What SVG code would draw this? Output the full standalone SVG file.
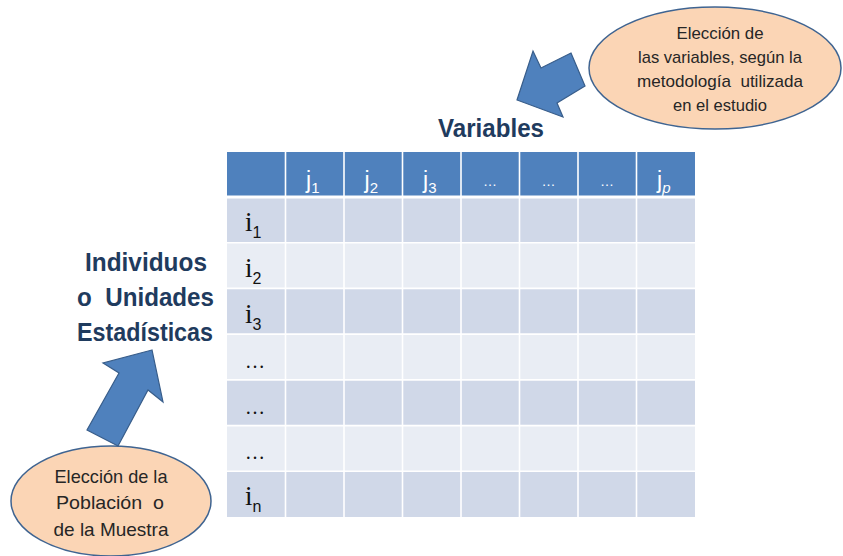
<svg xmlns="http://www.w3.org/2000/svg" width="843" height="556" viewBox="0 0 843 556">
  <style>
    text { white-space: pre; }
    .hdr { fill: #4F81BD; }
    .odd { fill: #D0D8E8; }
    .even { fill: #E9EDF4; }
    .grid { stroke: #FFFFFF; stroke-width: 1.6; fill: none; }
    .title { font-family: "Liberation Sans", Arial, sans-serif; font-weight: bold; fill: #1F3B5E; font-size: 26px; text-anchor: middle; }
    .bubble { fill: #FBD5B5; stroke: #3F6491; stroke-width: 1.5; }
    .btext { font-family: "Liberation Sans", Arial, sans-serif; fill: #262626; text-anchor: middle; }
    .arrow { fill: #4F81BD; stroke: #385D8A; stroke-width: 1.2; stroke-linejoin: miter; }
    .jh { font-family: "Liberation Sans", Arial, sans-serif; fill: #FFFFFF; font-size: 23px; }
    .jsub { font-size: 15px; }
    .ih { font-family: "Liberation Serif", "Times New Roman", serif; fill: #111111; font-size: 27px; }
    .isub { font-family: "Liberation Sans", Arial, sans-serif; font-size: 16px; fill: #111111; }
    .dots { font-family: "Liberation Sans", Arial, sans-serif; font-size: 14px; text-anchor: middle; }
    .rdots { font-family: "Liberation Serif", serif; font-size: 20px; text-anchor: middle; fill: #111111; }
  </style>

  <rect width="843" height="556" fill="#FFFFFF"/>

  <!-- data matrix -->
  <g id="matrix">
    <rect class="hdr" x="227" y="152" width="468" height="45"/>
    <rect class="odd" x="227" y="197" width="468" height="45.7"/>
    <rect class="even" x="227" y="242.7" width="468" height="45.7"/>
    <rect class="odd" x="227" y="288.4" width="468" height="45.7"/>
    <rect class="even" x="227" y="334.1" width="468" height="45.8"/>
    <rect class="odd" x="227" y="379.9" width="468" height="45.7"/>
    <rect class="even" x="227" y="425.6" width="468" height="45.7"/>
    <rect class="odd" x="227" y="471.3" width="468" height="45.7"/>
    <g class="grid">
      <line x1="285.5" y1="152" x2="285.5" y2="517"/>
      <line x1="344" y1="152" x2="344" y2="517"/>
      <line x1="402.5" y1="152" x2="402.5" y2="517"/>
      <line x1="461" y1="152" x2="461" y2="517"/>
      <line x1="519.5" y1="152" x2="519.5" y2="517"/>
      <line x1="578" y1="152" x2="578" y2="517"/>
      <line x1="636.5" y1="152" x2="636.5" y2="517"/>
      <line x1="227" y1="197" x2="695" y2="197" stroke-width="3"/>
      <line x1="227" y1="242.7" x2="695" y2="242.7"/>
      <line x1="227" y1="288.4" x2="695" y2="288.4"/>
      <line x1="227" y1="334.1" x2="695" y2="334.1"/>
      <line x1="227" y1="379.9" x2="695" y2="379.9"/>
      <line x1="227" y1="425.6" x2="695" y2="425.6"/>
      <line x1="227" y1="471.3" x2="695" y2="471.3"/>
    </g>

    <!-- column headers -->
    <text class="jh" x="306" y="188">j<tspan class="jsub" dy="5">1</tspan></text>
    <text class="jh" x="364.5" y="188">j<tspan class="jsub" dy="5">2</tspan></text>
    <text class="jh" x="423" y="188">j<tspan class="jsub" dy="5">3</tspan></text>
    <text class="dots" x="490" y="186" fill="#FFFFFF">…</text>
    <text class="dots" x="548.5" y="186" fill="#FFFFFF">…</text>
    <text class="dots" x="607" y="186" fill="#FFFFFF">…</text>
    <text class="jh" x="657" y="188">j<tspan class="jsub" dy="5" font-style="italic">p</tspan></text>

    <!-- row headers -->
    <text class="ih" x="245" y="231">i<tspan class="isub" dy="7">1</tspan></text>
    <text class="ih" x="245" y="277">i<tspan class="isub" dy="7">2</tspan></text>
    <text class="ih" x="245" y="322.5">i<tspan class="isub" dy="7">3</tspan></text>
    <text class="rdots" x="255" y="368">…</text>
    <text class="rdots" x="255" y="413.5">…</text>
    <text class="rdots" x="255" y="459">…</text>
    <text class="ih" x="245" y="505">i<tspan class="isub" dy="7">n</tspan></text>
  </g>

  <!-- axis titles -->
  <g id="title-variables">
    <text class="title" x="491" y="137" textLength="106" lengthAdjust="spacingAndGlyphs">Variables</text>
  </g>
  <g id="title-individuos">
    <text class="title" x="146" y="271" textLength="122" lengthAdjust="spacingAndGlyphs">Individuos</text>
    <text class="title" x="145.5" y="306" textLength="137" lengthAdjust="spacingAndGlyphs">o  Unidades</text>
    <text class="title" x="145" y="341" textLength="136" lengthAdjust="spacingAndGlyphs">Estadísticas</text>
  </g>

  <!-- selection bubbles -->
  <g id="bubble-variables">
    <ellipse class="bubble" cx="715" cy="68" rx="126" ry="61"/>
    <text class="btext" font-size="17" x="720" y="39" textLength="87" lengthAdjust="spacingAndGlyphs">Elección de</text>
    <text class="btext" font-size="17" x="720" y="63" textLength="164" lengthAdjust="spacingAndGlyphs">las variables, según la</text>
    <text class="btext" font-size="17" x="720" y="87" textLength="166" lengthAdjust="spacingAndGlyphs">metodología  utilizada</text>
    <text class="btext" font-size="17" x="720" y="111" textLength="94" lengthAdjust="spacingAndGlyphs">en el estudio</text>
  </g>
  <g id="bubble-poblacion">
    <ellipse class="bubble" cx="111" cy="501" rx="100" ry="55"/>
    <text class="btext" font-size="19" x="111" y="483" textLength="113" lengthAdjust="spacingAndGlyphs">Elección de la</text>
    <text class="btext" font-size="19" x="110" y="509" textLength="108" lengthAdjust="spacingAndGlyphs">Población  o</text>
    <text class="btext" font-size="19" x="111" y="536" textLength="115" lengthAdjust="spacingAndGlyphs">de la Muestra</text>
  </g>

  <!-- connectors: block arrows -->
  <g id="connectors">
    <polygon class="arrow" points="517,100 533,51 541,68 571,53 585,86 557,103 563,117"/>
    <polygon class="arrow" points="152,350 103,363 119,373 87,430 118,446 148,390 163,402"/>
  </g>
</svg>
